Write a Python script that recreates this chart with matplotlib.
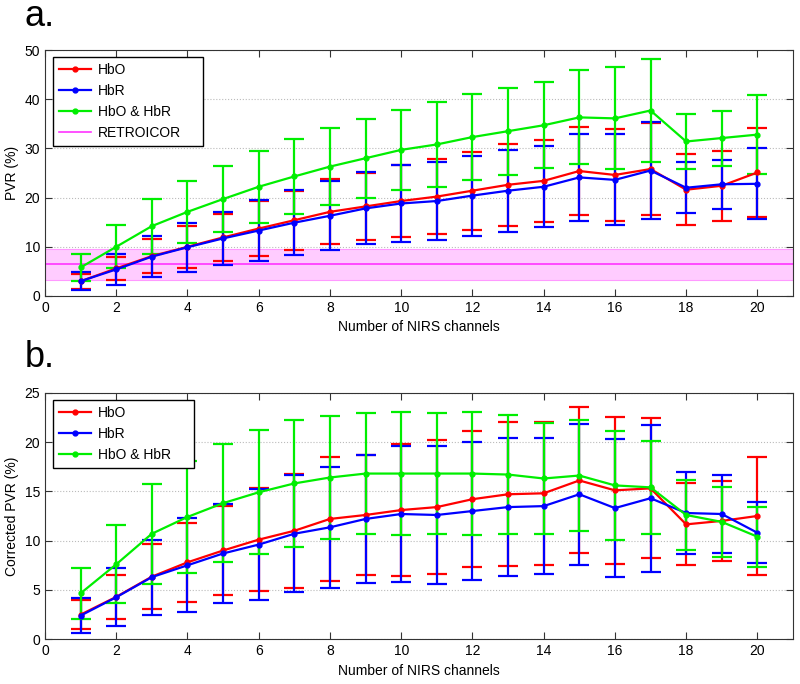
import numpy as np
import matplotlib.pyplot as plt
from matplotlib.lines import Line2D

plt.rcParams['font.family'] = ['Liberation Sans', 'DejaVu Sans']

channels = np.arange(1, 21)

# panel a: PVR (%)
hbo_a = [3.0, 5.6, 8.1, 10.0, 11.9, 13.7, 15.4, 17.1, 18.2, 19.3,
         20.2, 21.4, 22.6, 23.4, 25.4, 24.6, 25.8, 21.6, 22.4, 25.1]
hbo_a_err = [1.5, 2.4, 3.4, 4.3, 4.8, 5.6, 6.0, 6.6, 6.8, 7.3,
             7.7, 7.9, 8.3, 8.4, 9.0, 9.4, 9.4, 7.2, 7.1, 9.1]
hbr_a = [3.0, 5.4, 8.0, 9.9, 11.7, 13.3, 14.9, 16.3, 17.8, 18.8,
         19.3, 20.4, 21.4, 22.2, 24.1, 23.6, 25.5, 22.0, 22.7, 22.8]
hbr_a_err = [1.85, 3.15, 4.15, 5.0, 5.45, 6.2, 6.6, 7.05, 7.3, 7.8,
             7.85, 8.15, 8.3, 8.25, 8.8, 9.25, 9.85, 5.15, 5.0, 7.25]
both_a = [5.8, 10.0, 14.2, 17.1, 19.7, 22.2, 24.3, 26.3, 28.0, 29.7,
          30.8, 32.3, 33.5, 34.7, 36.3, 36.1, 37.7, 31.4, 32.1, 32.8]
both_a_err = [2.75, 4.35, 5.6, 6.25, 6.7, 7.3, 7.6, 7.85, 8.05, 8.2,
              8.6, 8.7, 8.85, 8.7, 9.55, 10.35, 10.45, 5.6, 5.6, 8.05]
retroicor_mean = 6.4
retroicor_err = 3.2

# panel b: corrected PVR (%)
hbo_b = [2.5, 4.3, 6.35, 7.8, 9.0, 10.1, 11.0, 12.2, 12.6, 13.1,
         13.4, 14.2, 14.7, 14.8, 16.1, 15.1, 15.3, 11.65, 12.0, 12.5]
hbo_b_err = [1.45, 2.25, 3.3, 4.0, 4.55, 5.2, 5.8, 6.25, 6.1, 6.7,
             6.8, 6.9, 7.3, 7.25, 7.4, 7.45, 7.1, 4.15, 4.05, 5.95]
hbr_b = [2.4, 4.26, 6.3, 7.5, 8.7, 9.6, 10.7, 11.35, 12.2, 12.7,
         12.6, 13.0, 13.4, 13.5, 14.7, 13.3, 14.3, 12.8, 12.7, 10.8]
hbr_b_err = [1.8, 2.95, 3.8, 4.75, 5.05, 5.65, 5.95, 6.15, 6.45, 6.85,
             6.95, 6.95, 7.0, 6.9, 7.15, 7.0, 7.45, 4.2, 3.95, 3.1]
both_b = [4.66, 7.6, 10.7, 12.4, 13.8, 14.9, 15.8, 16.4, 16.8, 16.8,
          16.8, 16.8, 16.7, 16.3, 16.6, 15.6, 15.4, 12.6, 11.9, 10.4]
both_b_err = [2.6, 3.95, 5.05, 5.65, 5.95, 6.3, 6.4, 6.25, 6.15, 6.25,
              6.15, 6.25, 6.0, 5.65, 5.6, 5.5, 4.7, 3.5, 3.55, 3.05]

labels = ['HbO', 'HbR', 'HbO & HbR']
colors = ['#ff0000', '#0000ff', '#00ee00']

fig = plt.figure(figsize=(8, 6.84), dpi=100)
ax1 = fig.add_axes([0.05625, 0.5673, 0.935, 0.3596])
ax2 = fig.add_axes([0.05625, 0.0654, 0.935, 0.3605])


def draw_panel(ax, series, errs):
    handles = []
    for y, e, lab, c in zip(series, errs, labels, colors):
        ax.errorbar(channels, y, yerr=e, color=c, lw=1.6, marker='o', ms=3.5,
                    capsize=7, capthick=1.6, elinewidth=1.6)
        handles.append(Line2D([], [], color=c, lw=1.6, marker='o', ms=3.5, label=lab))
    ax.set_xlim(0, 21)
    ax.set_xticks(np.arange(0, 21, 2))
    ax.grid(axis='y', linestyle=':', color='#bbbbbb', lw=0.8)
    ax.set_axisbelow(True)
    ax.tick_params(direction='in', top=True, right=True, length=5,
                   labelsize=10, color='#333333')
    for s in ax.spines.values():
        s.set_color('#333333')
    ax.set_xlabel('Number of NIRS channels', fontsize=10)
    return handles


def add_legend(ax, handles, width, top):
    ax.legend(handles=handles, loc='upper left', fontsize=10, fancybox=False,
              edgecolor='black', framealpha=1, handlelength=2.3,
              handletextpad=0.5, borderpad=0.45, labelspacing=0.5,
              borderaxespad=0, mode='expand',
              bbox_to_anchor=(0.0107, 0, width, top))


h1 = draw_panel(ax1, [hbo_a, hbr_a, both_a], [hbo_a_err, hbr_a_err, both_a_err])
ax1.axhspan(retroicor_mean - retroicor_err, retroicor_mean + retroicor_err,
            facecolor='#ffccff', edgecolor='#ff99ff', lw=0.8, zorder=0)
rl, = ax1.plot([0, 21], [retroicor_mean, retroicor_mean], color='#ff33ff',
               lw=1.2, zorder=1, label='RETROICOR')
ax1.set_ylim(0, 50)
ax1.set_yticks(np.arange(0, 51, 10))
ax1.set_ylabel('PVR (%)', fontsize=10)
add_legend(ax1, h1 + [rl], 0.2005, 0.9715)

h2 = draw_panel(ax2, [hbo_b, hbr_b, both_b], [hbo_b_err, hbr_b_err, both_b_err])
ax2.set_ylim(0, 25)
ax2.set_yticks(np.arange(0, 26, 5))
ax2.set_ylabel('Corrected PVR (%)', fontsize=10)
add_legend(ax2, h2, 0.1885, 0.970)

fig.text(0.031, 0.962, 'a.', fontsize=26, va='baseline')
fig.text(0.031, 0.4635, 'b.', fontsize=26, va='baseline')

fig.savefig('out.png', dpi=100)
